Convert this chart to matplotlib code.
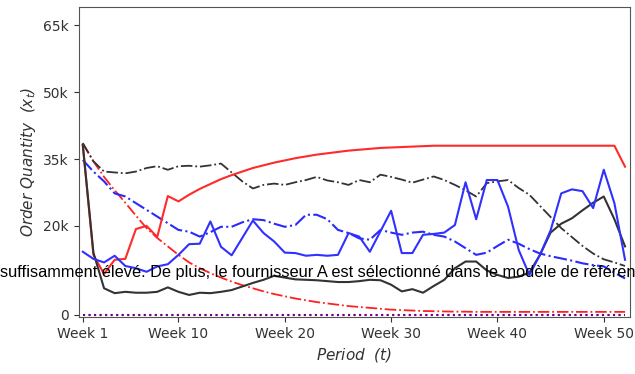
import matplotlib
matplotlib.use('Agg')
import matplotlib.pyplot as plt
import numpy as np

# order quantities per week, in thousands
weeks = list(range(1, 53))

redSolid = [38.2, 13.5, 9.2, 12.4, 12.6, 19.3, 20.0, 17.5, 26.7, 25.5,
            27.0, 28.3, 29.4, 30.5, 31.4, 32.2, 33.0, 33.6, 34.2, 34.7,
            35.2, 35.6, 36.0, 36.3, 36.6, 36.9, 37.1, 37.3, 37.5, 37.6,
            37.7, 37.8, 37.9, 38.0, 38.0, 38.0, 38.0, 38.0, 38.0, 38.0,
            38.0, 38.0, 38.0, 38.0, 38.0, 38.0, 38.0, 38.0, 38.0, 38.0,
            38.0, 33.3]

redDashDot = [38.5, 34.5, 31.0, 28.0, 25.2, 22.3, 19.5, 17.3, 15.4, 13.5,
              11.8, 10.5, 9.4, 8.4, 7.5, 6.7, 6.0, 5.3, 4.7, 4.2,
              3.7, 3.3, 2.9, 2.6, 2.3, 2.0, 1.8, 1.6, 1.4, 1.2,
              1.1, 1.0, 0.9, 0.85, 0.8, 0.75, 0.75, 0.7, 0.7, 0.7,
              0.7, 0.7, 0.7, 0.7, 0.7, 0.7, 0.7, 0.7, 0.7, 0.7,
              0.7, 0.7]

blackSolid = [38.2, 14.0, 6.0, 4.9, 5.2, 5.0, 5.0, 5.2, 6.2, 5.2,
              4.5, 5.0, 4.9, 5.2, 5.6, 6.4, 7.2, 7.9, 8.8, 8.4,
              8.0, 7.9, 7.8, 7.6, 7.4, 7.4, 7.6, 7.9, 7.8, 6.8,
              5.3, 5.8, 5.0, 6.5, 7.9, 10.5, 12.0, 12.0, 10.0, 9.0,
              8.3, 8.6, 9.5, 13.5, 18.5, 20.5, 21.7, 23.5, 25.2, 26.6,
              21.5, 15.4]

blackDashDot = [38.6, 34.5, 32.2, 32.0, 31.8, 32.2, 33.0, 33.4, 32.6, 33.4,
                33.5, 33.3, 33.6, 34.0, 32.0, 30.0, 28.4, 29.2, 29.5, 29.2,
                29.8, 30.3, 31.0, 30.2, 29.8, 29.2, 30.3, 29.8, 31.5, 31.0,
                30.4, 29.7, 30.4, 31.1, 30.3, 29.2, 28.0, 26.6, 29.6, 30.0,
                30.3, 28.5, 27.0, 24.5, 22.0, 19.5, 17.5, 15.5, 13.8, 12.5,
                11.8, 11.0]

blueSolid = [14.2, 12.6, 11.8, 13.3, 11.0, 10.5, 9.7, 10.9, 11.4, 13.5,
             15.9, 16.0, 21.0, 15.3, 13.4, 17.3, 21.2, 18.4, 16.5, 14.0,
             13.9, 13.3, 13.5, 13.3, 13.5, 18.4, 17.6, 14.2, 18.8, 23.4,
             13.9, 13.9, 18.0, 18.2, 18.5, 20.2, 29.8, 21.5, 30.3, 30.3,
             24.3, 14.6, 9.0, 13.5, 19.0, 27.3, 28.2, 27.8, 24.0, 32.6,
             25.1, 12.4]

blueDashDot = [34.8, 32.2, 30.0, 27.3, 26.6, 25.1, 23.6, 22.1, 20.6, 19.1,
               18.7, 17.6, 18.6, 19.8, 19.8, 20.8, 21.5, 21.3, 20.5, 19.8,
               20.2, 22.5, 22.5, 21.5, 19.1, 18.4, 17.2, 16.9, 19.1, 18.5,
               18.0, 18.5, 18.7, 18.0, 17.6, 16.5, 15.0, 13.5, 14.0, 15.5,
               16.9, 16.0, 14.8, 13.8, 13.2, 12.7, 12.2, 11.6, 11.2, 10.9,
               9.5, 8.2]

zeroLine = [0.0] * 52

yTicks = [0, 20, 35, 50, 65]
yTickLabels = ['0', '20k', '35k', '50k', '65k']
xTicks = [1, 10, 20, 30, 40, 50]
xTickLabels = ['Week 1', 'Week 10', 'Week 20', 'Week 30', 'Week 40', 'Week 50']

overlayText = ('suffisamment élevé. De plus, le fournisseur A est sélectionné '
               'dans le modèle de référence')

fig = plt.figure(figsize=(6.35, 3.74), dpi=100)
ax = fig.add_axes([0.124, 0.153, 0.868, 0.829])

ax.plot(weeks, zeroLine, color='red', linestyle=':', linewidth=1.5)
ax.plot(weeks, zeroLine, color='blue', linestyle=':', linewidth=1.5, alpha=0.6)
ax.plot(weeks, redDashDot, color='#ff2020', linestyle='-.', linewidth=1.3)
ax.plot(weeks, blueDashDot, color='#2a2aff', linestyle='-.', linewidth=1.5)
ax.plot(weeks, blackDashDot, color='#333333', linestyle='-.', linewidth=1.3)
ax.plot(weeks, redSolid, color='#ff2a2a', linestyle='-', linewidth=1.5)
ax.plot(weeks, blackSolid, color='#333333', linestyle='-', linewidth=1.5)
ax.plot(weeks, blueSolid, color='#3030ff', linestyle='-', linewidth=1.5)

ax.set_xlim(0.62, 52.46)
ax.set_ylim(-0.4, 69.2)
ax.set_yticks(yTicks)
ax.set_yticklabels(yTickLabels)
ax.set_xticks(xTicks)
ax.set_xticklabels(xTickLabels)
ax.tick_params(labelsize=10, colors='#333333', length=3.5)
for spine in ax.spines.values():
    spine.set_color('#555555')

ax.set_ylabel(r'Order Quantity  ($x_t$)', fontsize=11, style='italic', color='#333333')
ax.set_xlabel(r'Period  ($t$)', fontsize=11, style='italic', color='#333333')

fig.text(0.0, 0.26, overlayText, family='Liberation Sans', fontsize=11.8,
         ha='left', va='baseline', color='black')

fig.savefig('out.png', dpi=100)
